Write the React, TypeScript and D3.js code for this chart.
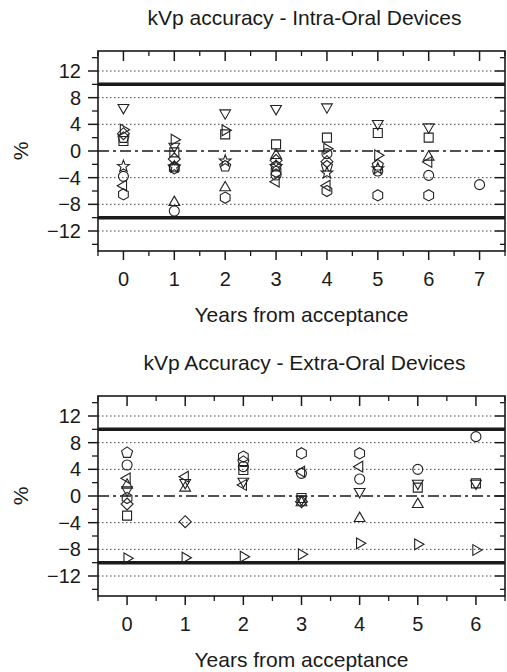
import React from "react";
import * as d3 from "d3";

// Intra-oral devices, % deviation per symbol series, years 0..7
const intraYears = [0, 1, 2, 3, 4, 5, 6, 7];
const intraSquare = [1.5, -0.2, 2.5, 1.0, 2.0, 2.7, 2.0, null];
const intraCircle = [-3.8, -9.0, null, -3.6, -0.4, -3.0, -3.65, -5.05];
const intraTriUp = [null, -7.7, -5.5, -0.65, null, null, -0.9, null];
const intraTriDown = [6.5, 0.7, 5.7, 6.35, 6.6, 4.1, 3.6, null];
const intraDiamond = [2.6, -1.2, null, -1.4, -1.6, null, null, null];
const intraTriLeft = [-5.2, null, null, -4.6, -5.2, null, -1.65, null];
const intraTriRight = [3.2, 1.7, 3.1, null, 0.35, -0.65, null, null];
const intraHexagon = [-6.5, -2.6, -7.0, -3.1, -6.0, -6.65, -6.65, null];
const intraPentagon = [2.0, -2.4, -2.3, -2.3, -2.3, -2.15, null, null];
const intraStar = [-2.3, -2.4, -1.5, -2.3, -3.3, -2.65, null, null];

// Extra-oral devices, years 0..6
const extraYears = [0, 1, 2, 3, 4, 5, 6];
const extraSquare = [-2.95, null, 3.9, -0.3, null, 1.25, 1.9];
const extraCircle = [4.65, null, 4.4, 3.4, 2.55, 4.0, 8.9];
const extraTriUp = [1.65, 1.2, null, -1.0, -3.35, -1.25, null];
const extraTriDown = [0.9, 2.0, 2.2, -0.5, 0.65, 1.9, 1.9];
const extraDiamond = [-1.2, -3.85, null, -0.85, null, null, null];
const extraTriLeft = [2.65, 2.9, 1.65, 3.65, 4.4, null, null];
const extraTriRight = [-9.35, -9.25, -9.1, -8.75, -7.1, -7.25, -8.1];
const extraHexagon = [-0.3, null, 5.9, 6.4, 6.4, null, null];
const extraPentagon = [6.5, null, 5.15, null, null, null, null];

const yLabelTicks = [12, 8, 4, 0, -4, -8, -12];
const yGridDotted = [12, 8, 4, -4, -8, -12];
const yLimits = [10, -10];

const FONT = "'Liberation Sans', Arial, sans-serif";
const INK = "#1a1a1a";

// polygon path around 0,0 (n vertices, first one pointing up)
const polygon = (n: number, r: number, rot = 0) => {
  const pts: [number, number][] = d3.range(n).map((i) => {
    const a = rot + (i * 2 * Math.PI) / n - Math.PI / 2;
    return [r * Math.cos(a), r * Math.sin(a)];
  });
  return d3.line()(pts) + "Z";
};

const starPath = (ro: number, ri: number) => {
  const pts: [number, number][] = d3.range(10).map((i) => {
    const a = (i * Math.PI) / 5 - Math.PI / 2;
    const r = i % 2 === 0 ? ro : ri;
    return [r * Math.cos(a), r * Math.sin(a)];
  });
  return d3.line()(pts) + "Z";
};

const shapes: Record<string, string> = {
  square: "M-4.5,-4.5H4.5V4.5H-4.5Z",
  circle: d3.symbol(d3.symbolCircle, Math.PI * 25)() as string,
  triUp: polygon(3, 6.2),
  triDown: polygon(3, 6.2, Math.PI),
  triLeft: polygon(3, 6.2, -Math.PI / 2),
  triRight: polygon(3, 6.2, Math.PI / 2),
  diamond: polygon(4, 6),
  hexagon: polygon(6, 5.6),
  pentagon: polygon(5, 5.8),
  star: starPath(6.2, 2.6),
};

const intraSeries = [
  { shape: "square", values: intraSquare },
  { shape: "circle", values: intraCircle },
  { shape: "triUp", values: intraTriUp },
  { shape: "triDown", values: intraTriDown },
  { shape: "diamond", values: intraDiamond },
  { shape: "triLeft", values: intraTriLeft },
  { shape: "triRight", values: intraTriRight },
  { shape: "hexagon", values: intraHexagon },
  { shape: "pentagon", values: intraPentagon },
  { shape: "star", values: intraStar },
];

const extraSeries = [
  { shape: "square", values: extraSquare },
  { shape: "circle", values: extraCircle },
  { shape: "triUp", values: extraTriUp },
  { shape: "triDown", values: extraTriDown },
  { shape: "diamond", values: extraDiamond },
  { shape: "triLeft", values: extraTriLeft },
  { shape: "triRight", values: extraTriRight },
  { shape: "hexagon", values: extraHexagon },
  { shape: "pentagon", values: extraPentagon },
];

const plotLeft = 98;
const plotRight = 505;
const plotH = 200;

type Series = { shape: string; values: (number | null)[] };

const Panel = ({ top, title, years, series }: { top: number; title: string; years: number[]; series: Series[] }) => {
  const x = d3
    .scaleLinear()
    .domain([-0.5, d3.max(years)! + 0.5])
    .range([plotLeft, plotRight]);
  const y = d3.scaleLinear().domain([-15, 15]).range([top + plotH, top]);
  const bottom = top + plotH;

  const xMinor = d3.range(-0.5, d3.max(years)! + 0.51, 0.5).filter((v) => !Number.isInteger(v));
  const yMinor = d3.range(-14, 15, 4);

  return (
    <g>
      <text x={(plotLeft + plotRight) / 2 + 3} y={top - 26} textAnchor="middle" fontSize={21} fontFamily={FONT} fill={INK}>
        {title}
      </text>

      {/* grid */}
      {yGridDotted.map((v) => (
        <line key={"g" + v} x1={plotLeft} x2={plotRight - 6} y1={y(v)} y2={y(v)} stroke="#444" strokeWidth={1} strokeDasharray="1.5,2.5" />
      ))}
      {yLimits.map((v) => (
        <line key={"l" + v} x1={plotLeft} x2={plotRight} y1={y(v)} y2={y(v)} stroke={INK} strokeWidth={3.5} />
      ))}
      <line x1={plotLeft} x2={plotRight} y1={y(0)} y2={y(0)} stroke={INK} strokeWidth={1.6} strokeDasharray="11,4,3,4" />

      {/* frame */}
      <rect x={plotLeft} y={top} width={plotRight - plotLeft} height={plotH} fill="none" stroke={INK} strokeWidth={1.6} />

      {/* x ticks: outward at bottom, inward at top */}
      {years.map((v) => (
        <g key={"xt" + v}>
          <line x1={x(v)} x2={x(v)} y1={bottom} y2={bottom + 9} stroke={INK} strokeWidth={1.5} />
          <line x1={x(v)} x2={x(v)} y1={top} y2={top + 10} stroke={INK} strokeWidth={1.5} />
          <text x={x(v)} y={bottom + 35} textAnchor="middle" fontSize={20} fontFamily={FONT} fill={INK}>
            {v}
          </text>
        </g>
      ))}
      {xMinor.map((v) => (
        <g key={"xm" + v}>
          <line x1={x(v)} x2={x(v)} y1={bottom} y2={bottom + 5} stroke={INK} strokeWidth={1.3} />
          <line x1={x(v)} x2={x(v)} y1={top} y2={top + 5} stroke={INK} strokeWidth={1.3} />
        </g>
      ))}

      {/* y ticks: outward at left, inward at right */}
      {yLabelTicks.map((v) => (
        <g key={"yt" + v}>
          <line x1={plotLeft - 10} x2={plotLeft} y1={y(v)} y2={y(v)} stroke={INK} strokeWidth={1.5} />
          <line x1={plotRight - 10} x2={plotRight} y1={y(v)} y2={y(v)} stroke={INK} strokeWidth={1.5} />
          <text x={81} y={y(v) + 7} textAnchor="end" fontSize={20} fontFamily={FONT} fill={INK}>
            {v < 0 ? "\u2212" + Math.abs(v) : v}
          </text>
        </g>
      ))}
      {yMinor.map((v) => (
        <g key={"ym" + v}>
          <line x1={plotLeft - 6} x2={plotLeft} y1={y(v)} y2={y(v)} stroke={INK} strokeWidth={1.3} />
          <line x1={plotRight - 5} x2={plotRight} y1={y(v)} y2={y(v)} stroke={INK} strokeWidth={1.3} />
        </g>
      ))}

      <text
        transform={`translate(28,${(top + bottom) / 2}) rotate(-90)`}
        textAnchor="middle"
        fontSize={21}
        fontFamily={FONT}
        fill={INK}
      >
        %
      </text>
      <text x={(plotLeft + plotRight) / 2} y={bottom + 71} textAnchor="middle" fontSize={21} fontFamily={FONT} fill={INK}>
        Years from acceptance
      </text>

      {/* markers */}
      {series.map((s) =>
        s.values.map((v, i) =>
          v == null ? null : (
            <path
              key={s.shape + i}
              d={shapes[s.shape]}
              transform={`translate(${x(years[i])},${y(v)})`}
              fill="none"
              stroke="#222"
              strokeWidth={1.1}
            />
          )
        )
      )}
    </g>
  );
};

export default function App() {
  return (
    <svg width={507} height={672} style={{ position: "absolute", left: 0, top: 0, background: "#fff" }}>
      <Panel top={51} title="kVp accuracy - Intra-Oral Devices" years={intraYears} series={intraSeries} />
      <Panel top={396} title="kVp Accuracy - Extra-Oral Devices" years={extraYears} series={extraSeries} />
    </svg>
  );
}
